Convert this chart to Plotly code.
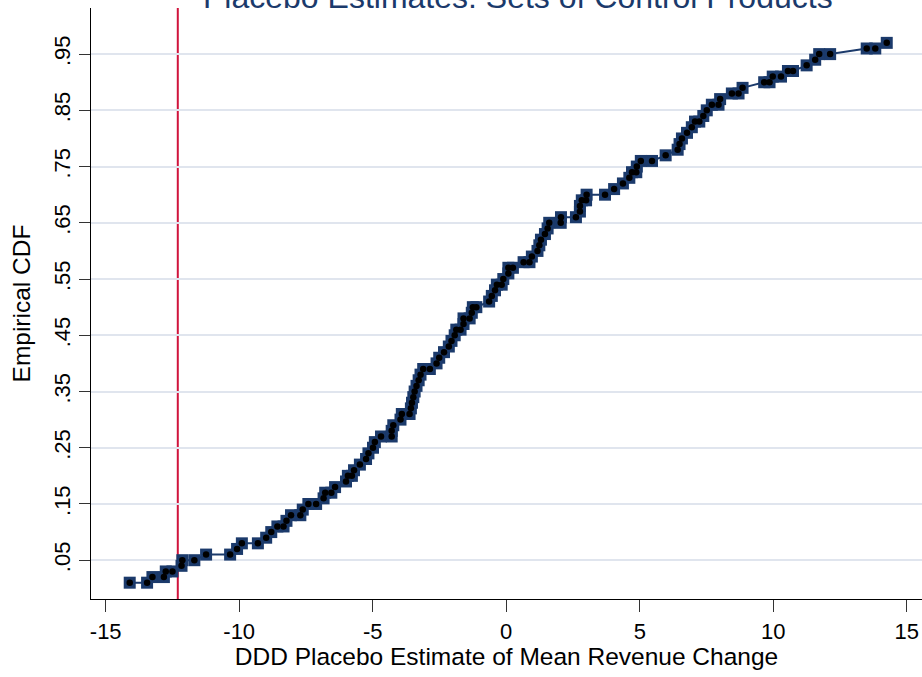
import plotly.graph_objects as go

# ---- data ----
placebo_estimates = [
    -14.10, -13.45, -13.25, -12.82, -12.75, -12.50, -12.16, -12.13, -11.68, -11.24,
    -10.34, -10.08, -9.90, -9.30, -8.99, -8.80, -8.57, -8.34, -8.23, -8.06,
    -7.71, -7.62, -7.41, -7.12, -6.84, -6.78, -6.55, -6.41, -6.00, -5.93,
    -5.78, -5.70, -5.48, -5.25, -5.16, -4.99, -4.92, -4.69, -4.29, -4.29,
    -4.23, -3.96, -3.91, -3.62, -3.57, -3.53, -3.48, -3.43, -3.36, -3.28,
    -3.21, -3.11, -2.86, -2.61, -2.51, -2.33, -2.15, -2.05, -1.93, -1.87,
    -1.71, -1.60, -1.60, -1.37, -1.29, -1.25, -1.12, -0.64, -0.54, -0.42,
    -0.35, -0.17, -0.11, 0.08, 0.08, 0.25, 0.65, 0.87, 0.96, 1.17,
    1.24, 1.30, 1.45, 1.55, 1.61, 2.04, 2.05, 2.61, 2.76, 2.76,
    2.83, 2.99, 3.01, 3.70, 4.04, 4.37, 4.61, 4.71, 4.87, 4.89,
    5.04, 5.46, 5.97, 6.42, 6.49, 6.58, 6.77, 6.95, 7.07, 7.23,
    7.38, 7.51, 7.70, 7.95, 8.01, 8.45, 8.70, 8.85, 9.66, 9.86,
    9.98, 10.29, 10.55, 10.74, 11.25, 11.57, 11.72, 12.13, 13.50, 13.82,
    14.25,
]
empirical_cdf = [
    0.01, 0.01, 0.02, 0.02, 0.03, 0.03, 0.04, 0.05, 0.05, 0.06,
    0.06, 0.07, 0.08, 0.08, 0.09, 0.10, 0.11, 0.11, 0.12, 0.13,
    0.13, 0.14, 0.15, 0.15, 0.16, 0.17, 0.17, 0.18, 0.19, 0.20,
    0.20, 0.21, 0.22, 0.23, 0.24, 0.25, 0.26, 0.27, 0.27, 0.28,
    0.29, 0.30, 0.31, 0.31, 0.32, 0.33, 0.34, 0.35, 0.36, 0.37,
    0.38, 0.39, 0.39, 0.40, 0.41, 0.42, 0.43, 0.44, 0.45, 0.46,
    0.46, 0.47, 0.48, 0.48, 0.49, 0.50, 0.50, 0.51, 0.52, 0.53,
    0.54, 0.54, 0.55, 0.56, 0.57, 0.57, 0.58, 0.58, 0.59, 0.60,
    0.61, 0.62, 0.63, 0.64, 0.65, 0.65, 0.66, 0.66, 0.67, 0.68,
    0.69, 0.69, 0.70, 0.70, 0.71, 0.72, 0.73, 0.74, 0.74, 0.75,
    0.76, 0.76, 0.77, 0.78, 0.79, 0.80, 0.81, 0.82, 0.83, 0.83,
    0.84, 0.85, 0.86, 0.86, 0.87, 0.88, 0.88, 0.89, 0.90, 0.90,
    0.91, 0.91, 0.92, 0.92, 0.93, 0.94, 0.95, 0.95, 0.96, 0.96,
    0.97,
]
actual_estimate = -12.3

y_tick_values = [0.05, 0.15, 0.25, 0.35, 0.45, 0.55, 0.65, 0.75, 0.85, 0.95]
y_tick_labels = [".05", ".15", ".25", ".35", ".45", ".55", ".65", ".75", ".85", ".95"]
x_tick_values = [-15, -10, -5, 0, 5, 10, 15]
x_tick_labels = ["-15", "-10", "-5", "0", "5", "10", "15"]

title_text = "Placebo Estimates: Sets of Control Products"
x_title = "DDD Placebo Estimate of Mean Revenue Change"
y_title = "Empirical CDF"

FONT = "Liberation Sans, Arial, sans-serif"
NAVY = "#1b3a6b"
RED = "#d0143c"

fig = go.Figure()

fig.add_trace(go.Scatter(
    x=placebo_estimates, y=empirical_cdf, mode="lines+markers",
    line=dict(color=NAVY, width=2),
    marker=dict(symbol="square", size=12, color=NAVY, line=dict(width=0)),
    hoverinfo="skip", showlegend=False,
))
fig.add_trace(go.Scatter(
    x=placebo_estimates, y=empirical_cdf, mode="markers",
    marker=dict(symbol="circle", size=6.5, color="#000000", line=dict(width=0)),
    hoverinfo="skip", showlegend=False,
))

fig.add_shape(type="line", xref="x", yref="paper",
              x0=actual_estimate, x1=actual_estimate, y0=0, y1=1,
              line=dict(color=RED, width=2), layer="between")

fig.add_annotation(text=title_text, xref="paper", yref="paper",
                   x=0.514, y=1, xanchor="center", yanchor="bottom",
                   yshift=-9, showarrow=False,
                   font=dict(family=FONT, size=32, color=NAVY))

fig.update_layout(
    width=922, height=677,
    margin=dict(l=91, r=0, t=8, b=78),
    paper_bgcolor="white", plot_bgcolor="white",
    font=dict(family=FONT, color="#000000"),
    showlegend=False,
)

fig.update_xaxes(
    range=[-15.55, 15.57],
    tickmode="array", tickvals=x_tick_values, ticktext=x_tick_labels,
    ticks="outside", ticklen=12, tickwidth=1, tickcolor="#333333",
    tickfont=dict(family=FONT, size=22, color="#000000"),
    showgrid=False, zeroline=False,
    showline=True, linecolor="#000000", linewidth=1.2,
    title=dict(text=x_title, font=dict(family=FONT, size=24.5, color="#000000"), standoff=4),
    automargin=False,
)
fig.update_yaxes(
    range=[-0.019, 1.032],
    tickmode="array", tickvals=y_tick_values, ticktext=y_tick_labels,
    ticks="outside", ticklen=11, tickwidth=1, tickcolor="#333333",
    tickangle=-90,
    tickfont=dict(family=FONT, size=22, color="#000000"),
    showgrid=True, gridcolor="#e0e5ee", gridwidth=2,
    zeroline=False,
    showline=True, linecolor="#000000", linewidth=1.2,
    title=dict(text=y_title, font=dict(family=FONT, size=24.5, color="#000000"), standoff=12),
    automargin=False,
)

fig.write_html("out.html", config={"displayModeBar": False},
               post_script="document.body.style.margin='0px';document.body.style.overflow='hidden';")
